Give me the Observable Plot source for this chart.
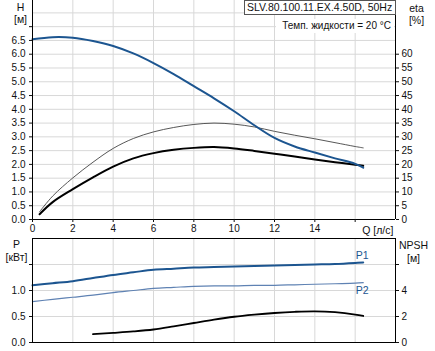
<!DOCTYPE html>
<html><head><meta charset="utf-8">
<script src="https://cdn.jsdelivr.net/npm/d3@7"></script>
<script src="https://cdn.jsdelivr.net/npm/@observablehq/plot@0.6"></script>
<style>
body{margin:0;background:#fff;font-family:"Liberation Sans",Arial,sans-serif;}
#wrap{position:relative;width:435px;height:351px;overflow:hidden;background:#fff;}
#topChart,#botChart{position:absolute;left:0;}
#topChart{top:0}
#botChart{top:237px}
#title{position:absolute;left:244px;top:0;width:152px;height:15px;box-sizing:border-box;border:1px solid #555;background:#fff;font-size:10.5px;line-height:13px;padding-left:2px;color:#111;white-space:nowrap;overflow:hidden;}
#temp{position:absolute;left:276px;top:19px;width:118px;height:14px;background:#fff;font-size:10px;line-height:14px;text-align:right;padding-right:3px;box-sizing:border-box;color:#111;white-space:nowrap;}
</style>
</head><body>
<div id="wrap">
<div id="topChart"></div>
<div id="botChart"></div>
<div id="title">SLV.80.100.11.EX.4.50D, 50Hz</div>
<div id="temp">Темп. жидкости = 20 °C</div>
</div>
<script>
// ---- data ----
const qH = [0,1,2,3,4,5,6,7,8,9,10,11,12,13,14,15,16,16.4];
const headM = [6.54,6.62,6.60,6.48,6.30,6.03,5.68,5.28,4.84,4.40,3.93,3.42,2.96,2.65,2.43,2.22,2.02,1.88];
const qEta = [0.35,1,2,3,4,5,6,7,8,9,10,11,12,13,14,15,16,16.4];
const etaThin = [2.8,8.5,15.1,20.8,25.8,29.4,31.8,33.4,34.5,35.0,34.6,33.6,32.0,30.6,29.3,27.9,26.5,26.0];
const etaThick = [1.9,6.3,11.0,15.3,19.2,22.2,24.1,25.3,26.0,26.3,25.8,24.9,23.9,22.9,21.8,20.8,19.9,19.5];
const qP = [0,1,2,3,4,5,6,7,8,9,10,11,12,13,14,15,16,16.4];
const p1 = [1.10,1.14,1.18,1.24,1.30,1.35,1.40,1.42,1.44,1.45,1.46,1.47,1.48,1.49,1.50,1.51,1.53,1.54];
const p2 = [0.785,0.83,0.87,0.91,0.96,1.00,1.04,1.06,1.08,1.09,1.09,1.10,1.10,1.11,1.12,1.13,1.14,1.15];
const qNpsh = [3,4,5,6,7,8,9,10,11,12,13,14,15,16,16.4];
const npsh = [0.64,0.74,0.85,1.00,1.24,1.50,1.76,1.98,2.14,2.27,2.36,2.40,2.33,2.15,2.04];
const qTicks = [0,2,4,6,8,10,12,14,16];
const hTicks = [0,0.5,1,1.5,2,2.5,3,3.5,4,4.5,5,5.5,6,6.5,7];
const etaTicks = [0,5,10,15,20,25,30,35,40,45,50,55,60];
const pTicks = [0,0.5,1,1.5];
const npshTicks = [0,2,4,6];

const hData = qH.map((q,i)=>({q, v: headM[i]}));
const thinData = qEta.map((q,i)=>({q, v: etaThin[i]}));
const thickData = qEta.map((q,i)=>({q, v: etaThick[i]}));
const p1Data = qP.map((q,i)=>({q, v: p1[i]}));
const p2Data = qP.map((q,i)=>({q, v: p2[i]}));
const npData = qNpsh.map((q,i)=>({q, v: npsh[i]}));

const gridC = "#d8d8d8";
const blue = "#1c5590";
const crv = "catmull-rom";
const font = {fontFamily:"Liberation Sans, Arial, sans-serif", fontSize:"10px", color:"#111", background:"transparent"};
const lbl = (s, anchor, dx, dy) => Plot.text([s], {frameAnchor:anchor, dx, dy, textAnchor:"middle", lineAnchor:"middle", fontSize:10.5});

const topPlot = Plot.plot({
  width:435, height:237,
  marginLeft:32, marginRight:40, marginTop:0, marginBottom:18,
  x:{domain:[0,18], label:null, axis:null},
  y:{domain:[0,7.95], label:null, axis:null},
  style:font,
  marks:[
    Plot.gridX(qTicks.filter(d=>d>0), {stroke:gridC, strokeOpacity:1}),
    Plot.gridY(hTicks.concat([7.5]).filter(d=>d>0), {stroke:gridC, strokeOpacity:1}),
    Plot.line(thinData, {x:"q", y:d=>d.v/10, stroke:"#444", strokeWidth:0.9, curve:crv}),
    Plot.line(thickData, {x:"q", y:d=>d.v/10, stroke:"#000", strokeWidth:2, curve:crv}),
    Plot.line(hData, {x:"q", y:"v", stroke:blue, strokeWidth:2, curve:crv}),
    Plot.ruleX([0,18], {stroke:"#000"}),
    Plot.ruleY([0], {stroke:"#000"}),
    Plot.axisY({ticks:hTicks, label:null, tickSize:3, tickPadding:4, tickFormat:d=> d<=6.5 ? d.toFixed(1) : ""}),
    Plot.axisY({anchor:"right", label:null, ticks:etaTicks.map(v=>v/10), tickSize:3, tickPadding:3, tickFormat:d=>String(Math.round(d*10))}),
    Plot.axisX({ticks:qTicks, label:null, tickSize:3, tickPadding:2, tickFormat:d=> d===16 ? "" : String(d)}),
    Plot.text(["Q [л/с]"], {x:16, y:0, dx:7, dy:11, textAnchor:"start", fontSize:10.5}),
    lbl("H", "top-left", -12, 7),
    lbl("[м]", "top-left", -12, 19),
    lbl("eta", "top-right", 21, 8),
    lbl("[%]", "top-right", 21, 20)
  ]
});
document.getElementById("topChart").appendChild(topPlot);

const botPlot = Plot.plot({
  width:435, height:114,
  marginLeft:32, marginRight:40, marginTop:1, marginBottom:9,
  x:{domain:[0,18], label:null, axis:null},
  y:{domain:[0,2], label:null, axis:null},
  style:font,
  marks:[
    Plot.gridX(qTicks.filter(d=>d>0), {stroke:gridC, strokeOpacity:1}),
    Plot.gridY(pTicks.filter(d=>d>0), {stroke:gridC, strokeOpacity:1}),
    Plot.line(npData, {x:"q", y:d=>d.v/4, stroke:"#000", strokeWidth:1.8, curve:crv}),
    Plot.line(p2Data, {x:"q", y:"v", stroke:"#5f82b3", strokeWidth:1.2, curve:crv}),
    Plot.line(p1Data, {x:"q", y:"v", stroke:blue, strokeWidth:2, curve:crv}),
    Plot.frame({stroke:"#000"}),
    Plot.axisY({ticks:pTicks, label:null, tickSize:3, tickPadding:4, tickFormat:d=> d<=1 ? d.toFixed(1) : ""}),
    Plot.axisY({anchor:"right", label:null, ticks:npshTicks.map(v=>v/4), tickSize:3, tickPadding:3, tickFormat:d=> d*4<=4 ? String(d*4) : ""}),
    Plot.text([p1Data[p1Data.length-1]], {x:"q", y:"v", text:()=>"P1", dy:-7, dx:-1, fill:blue, fontSize:10.5}),
    Plot.text([p2Data[p2Data.length-1]], {x:"q", y:"v", text:()=>"P2", dy:8, dx:-1, fill:blue, fontSize:10.5}),
    lbl("P", "top-left", -16, 6),
    lbl("[кВт]", "top-left", -16, 19),
    lbl("NPSH", "top-right", 18, 7),
    lbl("[м]", "top-right", 18, 20)
  ]
});
document.getElementById("botChart").appendChild(botPlot);
</script>
</body></html>
